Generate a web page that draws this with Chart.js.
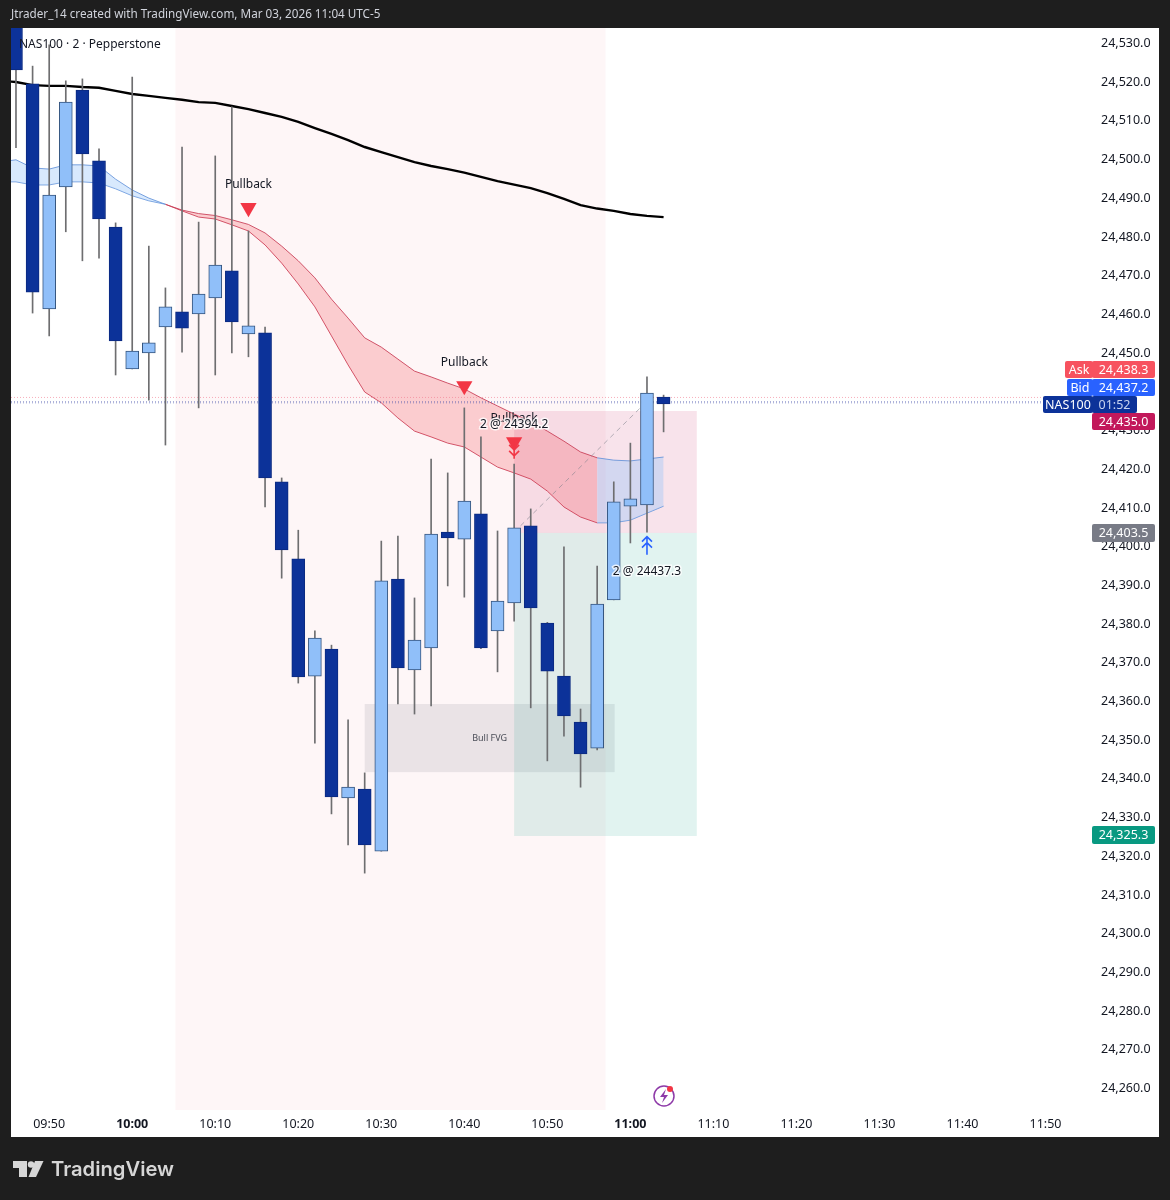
<!DOCTYPE html>
<html>
<head>
<meta charset="utf-8">
<title>NAS100 2m</title>
<style>
  html, body { margin: 0; padding: 0; background: #1e1e1e; }
  canvas { display: block; }
</style>
<script src="https://cdn.jsdelivr.net/npm/chart.js@4"></script>
</head>
<body>
<canvas id="chart" width="1170" height="1200"></canvas>
<script>
// minutes since midnight, one candle every 2 minutes
const times = [586, 588, 590, 592, 594, 596, 598, 600, 602, 604, 606, 608, 610, 612, 614, 616, 618, 620, 622, 624,
  626, 628, 630, 632, 634, 636, 638, 640, 642, 644, 646, 648, 650, 652, 654, 656, 658, 660, 662, 664];
const opens = [24545, 24519.3, 24461.2, 24492.7, 24517.7, 24499.4, 24482.3, 24445.7, 24449.8, 24456.5, 24460.4, 24459.9, 24464, 24471, 24454.7, 24455, 24416.5, 24396.6, 24366.3, 24373.3,
  24334.8, 24337.1, 24321.1, 24391.4, 24367.9, 24373.6, 24403.5, 24401.7, 24408.2, 24378, 24385.2, 24405.1, 24380, 24366.3, 24354.4, 24347.7, 24386, 24410.2, 24410.5, 24438.4];
const highs = [24548, 24523.9, 24529.4, 24520.1, 24520.6, 24502.5, 24483.4, 24521.1, 24477.4, 24466.6, 24503, 24483.6, 24500.7, 24513.4, 24481.3, 24456.5, 24417.5, 24404, 24378, 24374.3,
  24355, 24341.3, 24401.2, 24402.5, 24386.5, 24422.4, 24418.8, 24435.6, 24428.1, 24403.8, 24421.1, 24409.5, 24380.2, 24399.7, 24357.8, 24394.7, 24416.5, 24426.5, 24443.6, 24438.9];
const lows = [24502.8, 24460.1, 24454.2, 24481.1, 24473.6, 24474.3, 24444.1, 24445.7, 24437.6, 24426, 24450, 24435.6, 24444.1, 24449.8, 24448.8, 24410, 24391.6, 24364.5, 24349, 24330.7,
  24322.7, 24315.4, 24321.1, 24359.1, 24356.5, 24358.6, 24389.6, 24386.7, 24373.4, 24367.4, 24380.5, 24358.1, 24344.4, 24350.8, 24337.6, 24347.2, 24386, 24400.7, 24403.5, 24429.4];
const closes = [24522.9, 24465.5, 24490.6, 24514.6, 24501.2, 24484.4, 24452.9, 24450.3, 24452.4, 24461.7, 24456.2, 24465, 24472.5, 24457.8, 24456.8, 24417.5, 24398.9, 24366.1, 24376.1, 24335.1,
  24337.6, 24322.7, 24390.9, 24368.4, 24375.6, 24403, 24402, 24411.5, 24373.6, 24385.7, 24404.6, 24383.9, 24367.6, 24356, 24346.2, 24384.9, 24411.3, 24412.1, 24439.4, 24436.6];

// moving averages start one bar earlier so they run off the left edge
const lineTimes = [584].concat(times);
const ema200 = [24520.1, 24519.8, 24519, 24518.8, 24518.8, 24518.5, 24518.3, 24517.5, 24516.7, 24516.2, 24515.7, 24515.2, 24514.6, 24514.4, 24513.6, 24512.8, 24511.8, 24510.8, 24509.5, 24507.9, 24506.4,
  24504.8, 24503, 24501.7, 24500.4, 24499.1, 24498.1, 24497.3, 24496.4, 24495.3, 24494.2, 24493.3, 24492.4, 24491.1, 24489.6, 24488, 24487.1, 24486.5, 24485.7, 24485.2, 24484.9];
const ribbonUpper = [24499.1, 24499.7, 24497.6, 24497.3, 24498.4, 24498.4, 24498.1, 24494.7, 24491.9, 24489.8, 24488.2, 24486.7, 24485.8, 24485.3, 24484.2, 24483, 24480.8, 24477.4, 24473.6, 24469.2, 24463.7,
  24458.8, 24453.7, 24451.3, 24448.2, 24445.1, 24443.6, 24442, 24440.5, 24438.2, 24436.1, 24434, 24432, 24429.6, 24427, 24424.2, 24422.7, 24422.1, 24421.9, 24422.4, 24422.9];
const ribbonLower = [24494, 24494, 24493.2, 24493.2, 24494, 24494, 24493.7, 24492.2, 24490.4, 24489.1, 24488.2, 24486.5, 24484.9, 24484.4, 24482.9, 24481.3, 24477.7, 24473, 24467.6, 24461.7, 24454.2,
  24446.7, 24439.7, 24436.9, 24433, 24429.6, 24428.1, 24426.5, 24425.5, 24422.9, 24420.3, 24418.8, 24417.2, 24414.1, 24410, 24407.4, 24405.9, 24405.9, 24406.6, 24408.4, 24410.2];

const priceLines = [24438.3, 24437.2, 24436.9];
const tradeLineTimes = [646, 662];
const tradeLinePrices = [24403.5, 24437.3];

const signalTimes = [614, 640, 646];
const signalPrices = [24487.3, 24441.3, 24426.8];
const noteTimes = [614, 640, 646];
const notePrices = [24493.2, 24447.2, 24432.8];
const noteTexts = ["Pullback", "Pullback", "Pullback"];

const sessionZone = [605.2, 657];
const stopZone = [646, 668, 24403.3, 24434.8];
const targetZone = [646, 668, 24325, 24403.3];
const fvgZone = [628, 658.1, 24341.5, 24359.1];

const xMin = 585.4, xMax = 715.6;
const yMin = 24254.2, yMax = 24533.75;

const FONT = '"Noto Sans", sans-serif';
const DARK = "#0c3299", LIGHT = "#90bff9";

function pts(xs, ys) {
  return xs.map((x, i) => ({ x: x, y: ys[i] }));
}

function ribbon(from, to, fill, stroke) {
  const xs = lineTimes.slice(from, to);
  return [
    { type: "line", data: pts(xs, ribbonUpper.slice(from, to)), borderColor: stroke, borderWidth: 1, pointRadius: 0,
      backgroundColor: fill, fill: "+1", order: 6 },
    { type: "line", data: pts(xs, ribbonLower.slice(from, to)), borderColor: stroke, borderWidth: 1, pointRadius: 0,
      fill: false, order: 6 },
  ];
}

function box(ctx, text, x, y, w, h, fill, color, align) {
  ctx.fillStyle = fill;
  ctx.beginPath();
  ctx.roundRect(x, y, w, h, 2);
  ctx.fill();
  ctx.fillStyle = color;
  ctx.textAlign = align || "center";
  ctx.textBaseline = "middle";
  ctx.fillText(text, x + w / 2, y + h / 2 + 0.5);
}

// stem with two chevrons, dir = 1 points down
function arrow(ctx, x, y, dir, color) {
  ctx.strokeStyle = color;
  ctx.lineWidth = 1.6;
  ctx.beginPath();
  ctx.moveTo(x, y - 9 * dir);
  ctx.lineTo(x, y + 8 * dir);
  for (const off of [-1, 5]) {
    const tip = dir === 1 ? y + off : y - 7 + off - 1;
    ctx.moveTo(x - 5, tip - 5 * dir);
    ctx.lineTo(x, tip);
    ctx.lineTo(x + 5, tip - 5 * dir);
  }
  ctx.stroke();
}

const panel = {
  id: "panel",
  beforeDraw(chart) {
    const c = chart.ctx;
    c.save();
    c.fillStyle = "#ffffff";
    c.fillRect(11, 28, 1148, 1109);
    c.restore();
  },
  beforeDatasetsDraw(chart) {
    const c = chart.ctx, sx = chart.scales.x, sy = chart.scales.y, a = chart.chartArea;
    const rect = (z, color) => {
      const x0 = sx.getPixelForValue(z[0]), x1 = sx.getPixelForValue(z[1]);
      const y0 = z.length > 2 ? sy.getPixelForValue(z[3]) : a.top;
      const y1 = z.length > 2 ? sy.getPixelForValue(z[2]) : a.bottom;
      c.fillStyle = color;
      c.fillRect(x0, y0, x1 - x0, y1 - y0);
    };
    c.save();
    rect(sessionZone, "rgba(242,54,69,0.045)");
    rect(fvgZone, "rgba(120,123,134,0.15)");
    rect(stopZone, "rgba(194,24,91,0.12)");
    rect(targetZone, "rgba(8,153,129,0.12)");
    c.restore();
  },
  afterDraw(chart) {
    const c = chart.ctx, sx = chart.scales.x, sy = chart.scales.y;
    c.save();

    // notes on the chart
    c.font = "12px " + FONT;
    c.fillStyle = "#131722";
    c.textAlign = "center";
    c.textBaseline = "middle";
    noteTimes.forEach((t, i) => {
      c.fillText(noteTexts[i], sx.getPixelForValue(t), sy.getPixelForValue(notePrices[i]));
    });
    c.font = "9px " + FONT;
    c.fillStyle = "#4a4d57";
    c.fillText("Bull FVG", sx.getPixelForValue((fvgZone[0] + fvgZone[1]) / 2), sy.getPixelForValue((fvgZone[2] + fvgZone[3]) / 2));

    // executions
    c.font = "12px " + FONT;
    [["2 @ 24394.2", 646, 24431.2], ["2 @ 24437.3", 662, 24393.3]].forEach(e => {
      const px = sx.getPixelForValue(e[1]), py = sy.getPixelForValue(e[2]);
      c.lineWidth = 3;
      c.strokeStyle = "rgba(255,255,255,0.8)";
      c.strokeText(e[0], px, py);
      c.fillStyle = "#131722";
      c.fillText(e[0], px, py);
    });
    arrow(c, sx.getPixelForValue(646), sy.getPixelForValue(24424.5), 1, "#f23645");
    arrow(c, sx.getPixelForValue(662), sy.getPixelForValue(24400), -1, "#2962ff");

    // header and symbol line
    c.textAlign = "left";
    c.font = "11.7px " + FONT;
    c.fillStyle = "#d1d4dc";
    c.fillText("Jtrader_14 created with TradingView.com, Mar 03, 2026 11:04 UTC-5", 11, 15);
    c.fillStyle = "#131722";
    c.font = "12px " + FONT;
    c.fillText("NAS100 · 2 · Pepperstone", 19, 45);

    // price scale labels
    c.font = "12.5px " + FONT;
    box(c, "Ask", 1065, 361, 28, 17, "#f7525f", "#ffffff");
    box(c, "24,438.3", 1092, 361, 63, 17, "#f7525f", "#ffffff");
    box(c, "Bid", 1067, 379, 26, 17, "#2962ff", "#ffffff");
    box(c, "24,437.2", 1092, 379, 63, 17, "#2962ff", "#ffffff");
    box(c, "NAS100", 1043, 396, 50, 17, DARK, "#ffffff");
    box(c, "01:52", 1092, 396, 45, 17, DARK, "#c8d4f0");
    box(c, "24,435.0", 1092, 413, 63, 17, "#c2185b", "#ffffff");
    box(c, "24,403.5", 1092, 524, 63, 18, "#787b86", "#ffffff");
    box(c, "24,325.3", 1092, 826, 63, 18, "#089981", "#ffffff");

    // lightning badge near the time scale
    c.strokeStyle = "#8e3aa8";
    c.lineWidth = 1.5;
    c.beginPath();
    c.arc(664, 1096, 10, 0, Math.PI * 2);
    c.stroke();
    c.fillStyle = "#8e3aa8";
    c.beginPath();
    c.moveTo(666, 1089);
    c.lineTo(660, 1097);
    c.lineTo(664, 1097);
    c.lineTo(662, 1103);
    c.lineTo(668, 1095);
    c.lineTo(664, 1095);
    c.closePath();
    c.fill();
    c.fillStyle = "#f23645";
    c.beginPath();
    c.arc(670, 1089, 3, 0, Math.PI * 2);
    c.fill();

    // footer logo
    c.fillStyle = "#d6d6d6";
    c.beginPath();
    c.moveTo(13, 1161); c.lineTo(27, 1161); c.lineTo(27, 1177); c.lineTo(19, 1177); c.lineTo(19, 1168); c.lineTo(13, 1168);
    c.closePath();
    c.fill();
    c.beginPath();
    c.arc(31, 1164.5, 3.2, 0, Math.PI * 2);
    c.fill();
    c.beginPath();
    c.moveTo(35, 1161); c.lineTo(43.5, 1161); c.lineTo(36, 1177); c.lineTo(28.5, 1177);
    c.closePath();
    c.fill();
    c.font = '600 20.2px Inter, sans-serif';
    c.textAlign = "left";
    c.fillText("TradingView", 51, 1170);
    c.restore();
  },
};

new Chart(document.getElementById("chart"), {
  type: "bar",
  plugins: [panel],
  data: {
    datasets: [
      ...ribbon(0, 11, "rgba(144,191,249,0.35)", "rgba(90,140,215,0.8)"),
      ...ribbon(10, 37, "rgba(242,54,69,0.22)", "rgba(200,60,85,0.85)"),
      ...ribbon(36, 41, "rgba(144,191,249,0.35)", "rgba(90,140,215,0.8)"),
      { type: "line", data: pts(lineTimes, ema200), borderColor: "#000000", borderWidth: 2.4, pointRadius: 0, fill: false, order: 5 },
      ...priceLines.map((p, i) => ({
        type: "line", data: pts([xMin, 711], [p, p]), borderColor: i === 0 ? "rgba(242,120,140,0.6)" : "rgba(70,80,170,0.55)",
        borderWidth: 1, borderDash: [1, 2], pointRadius: 0, fill: false, order: 5,
      })),
      { type: "line", data: pts(tradeLineTimes, tradeLinePrices), borderColor: "rgba(120,123,134,0.55)", borderWidth: 1,
        borderDash: [5, 4], pointRadius: 0, fill: false, order: 5 },
      { label: "wick", data: times.map((t, i) => ({ x: t, y: [lows[i], highs[i]] })), backgroundColor: "#6e6e70",
        barThickness: 1, grouped: false, order: 3 },
      { label: "body", data: times.map((t, i) => ({ x: t, y: [opens[i], closes[i]] })),
        backgroundColor: times.map((t, i) => (closes[i] >= opens[i] ? LIGHT : DARK)),
        borderColor: times.map((t, i) => (closes[i] >= opens[i] ? "#35557f" : "#0b2a80")),
        borderWidth: 1, borderSkipped: false, barThickness: 13, grouped: false, order: 2 },
      { type: "line", data: pts(signalTimes, signalPrices), showLine: false, pointStyle: "triangle", rotation: 180,
        pointRadius: 9.4, pointHoverRadius: 9.4, backgroundColor: "#f23645", borderColor: "#f23645", borderWidth: 0, order: 1 },
    ],
  },
  options: {
    responsive: false,
    animation: false,
    events: [],
    layout: { padding: { left: 11, top: 28, right: 11, bottom: 63 } },
    plugins: { legend: { display: false }, tooltip: { enabled: false } },
    scales: {
      x: {
        type: "linear",
        offset: false,
        min: xMin,
        max: xMax,
        grid: { display: false, drawTicks: false },
        border: { display: false },
        afterFit: s => { s.height = 27; },
        ticks: {
          stepSize: 10,
          includeBounds: false,
          autoSkip: false,
          maxRotation: 0,
          padding: 7,
          color: "#131722",
          font: c => ({ family: FONT, size: 12.5, weight: c.tick && c.tick.value % 60 === 0 ? "bold" : "normal" }),
          callback: v => String(Math.floor(v / 60)).padStart(2, "0") + ":" + String(v % 60).padStart(2, "0"),
        },
      },
      y: {
        position: "right",
        min: yMin,
        max: yMax,
        grid: { display: false, drawTicks: false },
        border: { display: false },
        afterFit: s => { s.width = 67; },
        ticks: {
          stepSize: 10,
          includeBounds: false,
          autoSkip: false,
          padding: 9,
          labelOffset: 1,
          color: "#131722",
          font: { family: FONT, size: 12.5 },
          callback: v => v.toLocaleString("en-US", { minimumFractionDigits: 1, maximumFractionDigits: 1 }),
        },
      },
    },
  },
});
</script>
</body>
</html>
